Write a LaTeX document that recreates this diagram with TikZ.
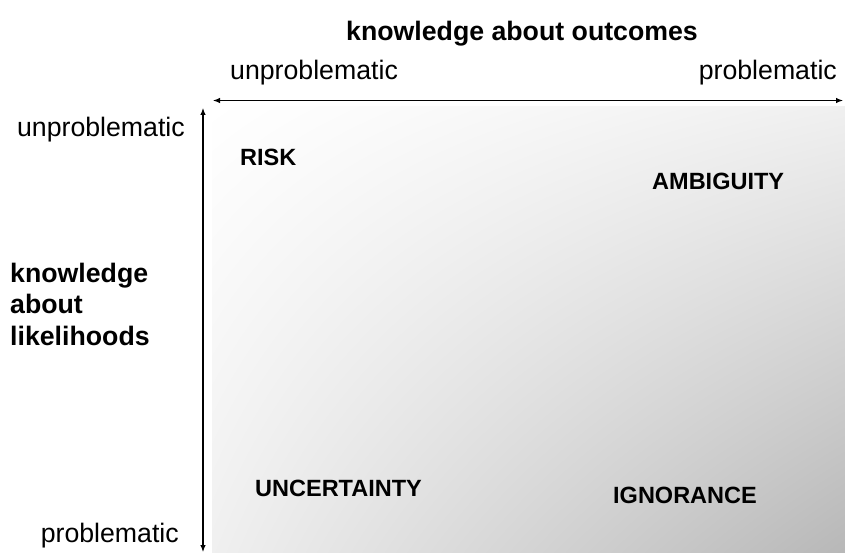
\documentclass[tikz,border=0pt]{standalone}
\usepackage{fontspec}
\setmainfont{Liberation Sans}
\usetikzlibrary{arrows.meta,shadings}
\begin{document}
\begin{tikzpicture}[x=1pt,y=-1pt,
    axislabel/.style={font=\fontsize{26.7}{31.5}\selectfont, inner sep=0pt, align=left},
    quadlabel/.style={font=\fontsize{23.5}{28}\selectfont\bfseries, inner sep=0pt, anchor=base west},
    axis/.style={line width=1.1pt, {Latex[length=7pt,width=5.5pt]}-{Latex[length=7pt,width=5.5pt]}}]
    \useasboundingbox (0,0) rectangle (845,553);
    % shaded square (white at top left, grey at bottom right)
    \shade[upper left=white, lower right=black!28, upper right=black!6, lower left=black!6] (212,107) rectangle (845,553);
    % axis ends
    \coordinate (xleft) at (213,100.5);
    \coordinate (xright) at (843,100.5);
    \coordinate (ytop) at (203,108);
    \coordinate (ybottom) at (203,552);
    \draw[axis] (xleft) -- (xright);
    \draw[axis] (ytop) -- (ybottom);
    % axis labels
    \node[axislabel, font=\fontsize{26.7}{31.5}\selectfont\bfseries, anchor=base west] (outcomes) at (346,41) {knowledge about outcomes};
    \node[axislabel, anchor=base west] (xunprob) at (230,80) {unproblematic};
    \node[axislabel, anchor=base east] (xprob) at (837,80) {problematic};
    \node[axislabel, anchor=base east] (yunprob) at (185,137) {unproblematic};
    \node[axislabel, anchor=base east] (yprob) at (179,542) {problematic};
    \node[axislabel, font=\fontsize{26.7}{31.5}\selectfont\bfseries, anchor=base west] (likelihoods) at (10,345) {knowledge\\about\\likelihoods};
    % quadrants
    \node[quadlabel] (risk) at (240,166) {RISK};
    \node[quadlabel] (ambiguity) at (652,190) {AMBIGUITY};
    \node[quadlabel] (uncertainty) at (255,496) {UNCERTAINTY};
    \node[quadlabel] (ignorance) at (613,503) {IGNORANCE};
\end{tikzpicture}
\end{document}
